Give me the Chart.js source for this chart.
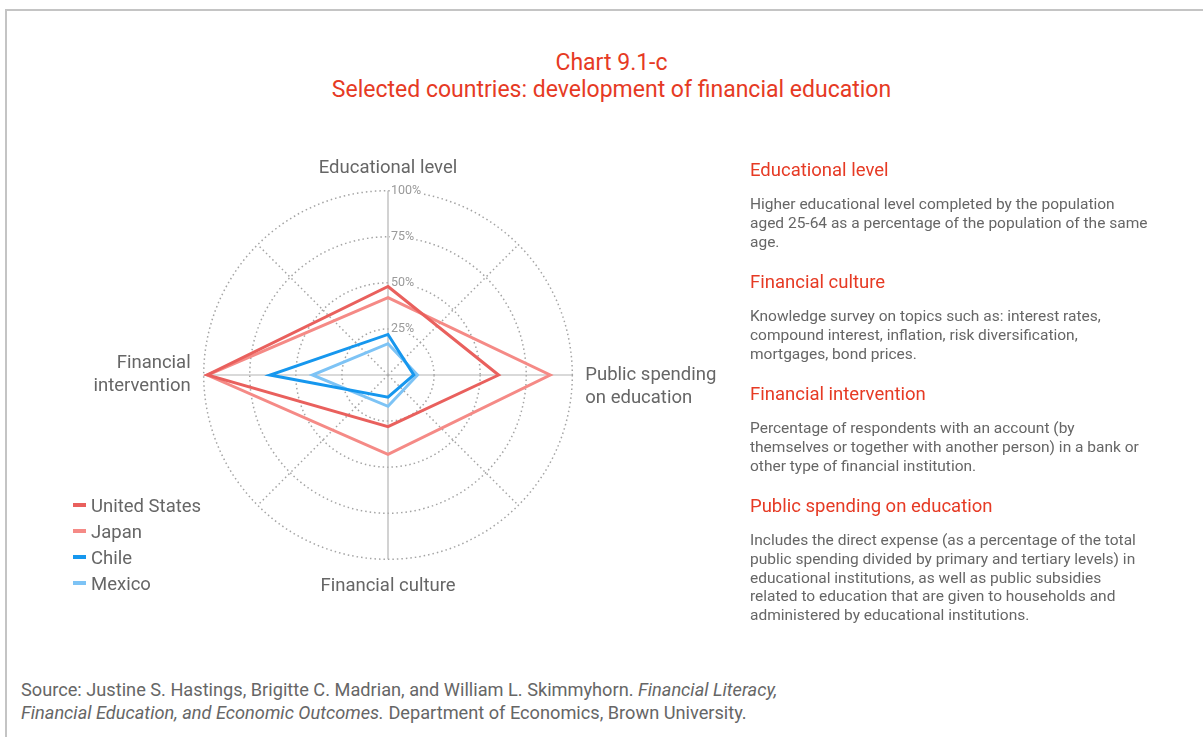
<!DOCTYPE html>
<html>
<head>
<meta charset="utf-8">
<script src="https://cdn.jsdelivr.net/npm/chart.js@4/dist/chart.umd.min.js"></script>
<style>
    html, body { margin: 0; padding: 0; background: #fff; overflow: hidden; }
    body { width: 1203px; height: 737px; position: relative; font-family: Roboto, "Open Sans", sans-serif; color: #666; }
    .frame { position: absolute; left: 5px; top: 9px; width: 1300px; height: 800px; border-top: 2px solid #c4c4c4; border-left: 2px solid #c4c4c4; }
    .title { position: absolute; left: 0; width: 1223px; top: 49px; text-align: center; color: #e63a24; font-size: 23px; line-height: 27px; }
    #chartBox { position: absolute; left: 8px; top: 155px; width: 760px; height: 446px; }
    #legend { position: absolute; left: 73px; top: 493px; font-size: 18.5px; line-height: 26px; color: #666; }
    #legend .item { white-space: nowrap; }
    #legend .mark { display: inline-block; width: 13px; height: 4px; margin-right: 5px; vertical-align: middle; position: relative; top: -2px; }
    .notes { position: absolute; left: 750px; top: 0; width: 440px; }
    .note { position: absolute; left: 0; white-space: nowrap; }
    .note h3 { margin: 0; font-weight: normal; color: #e63a24; font-size: 18.5px; line-height: 20px; }
    .note p { margin: 15px 0 0 0; font-size: 15.5px; line-height: 18.8px; color: #666; }
    .source { position: absolute; left: 21px; top: 678px; font-size: 18.2px; line-height: 23px; color: #666; white-space: nowrap; }
</style>
</head>
<body>
<div class="frame"></div>
<div class="title">Chart 9.1-c<br>Selected countries: development of financial education</div>

<div id="chartBox"><canvas id="radarChart" width="760" height="446"></canvas></div>
<div id="legend"></div>

<div class="notes">
    <div class="note" style="top:160px">
        <h3>Educational level</h3>
        <p>Higher educational level completed by the population<br>aged 25-64 as a percentage of the population of the same<br>age.</p>
    </div>
    <div class="note" style="top:272px">
        <h3>Financial culture</h3>
        <p>Knowledge survey on topics such as: interest rates,<br>compound interest, inflation, risk diversification,<br>mortgages, bond prices.</p>
    </div>
    <div class="note" style="top:384px">
        <h3>Financial intervention</h3>
        <p>Percentage of respondents with an account (by<br>themselves or together with another person) in a bank or<br>other type of financial institution.</p>
    </div>
    <div class="note" style="top:496px">
        <h3>Public spending on education</h3>
        <p>Includes the direct expense (as a percentage of the total<br>public spending divided by primary and tertiary levels) in<br>educational institutions, as well as public subsidies<br>related to education that are given to households and<br>administered by educational institutions.</p>
    </div>
</div>

<div class="source">Source: Justine S. Hastings, Brigitte C. Madrian, and William L. Skimmyhorn. <i>Financial Literacy,</i><br><i>Financial Education, and Economic Outcomes.</i> Department of Economics, Brown University.</div>

<script>
// Axes (empty slots give the dotted diagonal spokes)
const axisLabels = [
    'Educational level', '',
    ['', 'Public spending', 'on education'], '',
    'Financial culture', '',
    ['Financial', 'intervention'], ''
];

// Values in %, order: educational level, public spending, financial culture, financial intervention
const unitedStates = [48, null, 60, null, 28, null, 98, null];
const japan        = [42, null, 88, null, 43, null, 98, null];
const chile        = [22, null, 14, null, 12, null, 64, null];
const mexico       = [17, null, 16, null, 17, null, 41, null];

const seriesNames = ['United States', 'Japan', 'Chile', 'Mexico'];
const seriesColors = ['#e9605d', '#f58a86', '#1697ee', '#7dc3f5'];

const tickValues = [25, 50, 75, 100];
const tickLabels = ['25%', '50%', '75%', '100%'];

Chart.defaults.font.family = 'Roboto, "Open Sans", sans-serif';

// Tick labels sit just right of the vertical axis, on a white patch
const tickLabelPlugin = {
    id: 'tickLabels',
    beforeDatasetsDraw(chart) {
        const scale = chart.scales.r;
        const ctx = chart.ctx;
        ctx.save();
        ctx.font = '12.5px Roboto, sans-serif';
        ctx.textAlign = 'left';
        ctx.textBaseline = 'middle';
        tickValues.forEach((v, i) => {
            const y = scale.yCenter - scale.getDistanceFromCenterForValue(v);
            const x = scale.xCenter + 3;
            const w = ctx.measureText(tickLabels[i]).width;
            ctx.fillStyle = '#fff';
            ctx.fillRect(x - 1, y - 5, w + 3, 10);
            ctx.fillStyle = '#9a9a9a';
            ctx.fillText(tickLabels[i], x, y);
        });
        ctx.restore();
    }
};

const allSeries = [unitedStates, japan, chile, mexico];

const radarChart = new Chart(document.getElementById('radarChart'), {
    type: 'radar',
    data: {
        labels: axisLabels,
        datasets: allSeries.map((values, i) => ({
            label: seriesNames[i],
            data: values,
            borderColor: seriesColors[i],
            backgroundColor: 'transparent',
            borderWidth: 3,
            fill: false,
            pointRadius: 0,
            pointHoverRadius: 0,
            spanGaps: true
        }))
    },
    options: {
        responsive: false,
        animation: false,
        plugins: {
            legend: { display: false },
            tooltip: { enabled: false }
        },
        scales: {
            r: {
                min: 0,
                max: 100,
                ticks: { display: false, stepSize: 25 },
                grid: { circular: true, color: '#a4a4a4', lineWidth: 1.5 },
                border: { dash: [1.5, 3] },
                angleLines: {
                    color: ctx => ctx.index % 2 === 0 ? '#b4b4b4' : '#a4a4a4',
                    lineWidth: ctx => ctx.index % 2 === 0 ? 1.2 : 1.5,
                    borderDash: ctx => ctx.index % 2 === 0 ? [] : [1.5, 3]
                },
                pointLabels: {
                    color: '#666',
                    // top label a bit closer, bottom one a bit further
                    padding: ctx => ctx.index === 0 ? 10 : (ctx.index === 4 ? 15 : 13),
                    font: { size: 18.5, lineHeight: 1.28 }
                }
            }
        }
    },
    plugins: [tickLabelPlugin]
});

// HTML legend from the datasets
const legend = document.getElementById('legend');
radarChart.data.datasets.forEach(ds => {
    const row = document.createElement('div');
    row.className = 'item';
    row.innerHTML = `<span class="mark" style="background:${ds.borderColor}"></span>${ds.label}`;
    legend.appendChild(row);
});
</script>
</body>
</html>
